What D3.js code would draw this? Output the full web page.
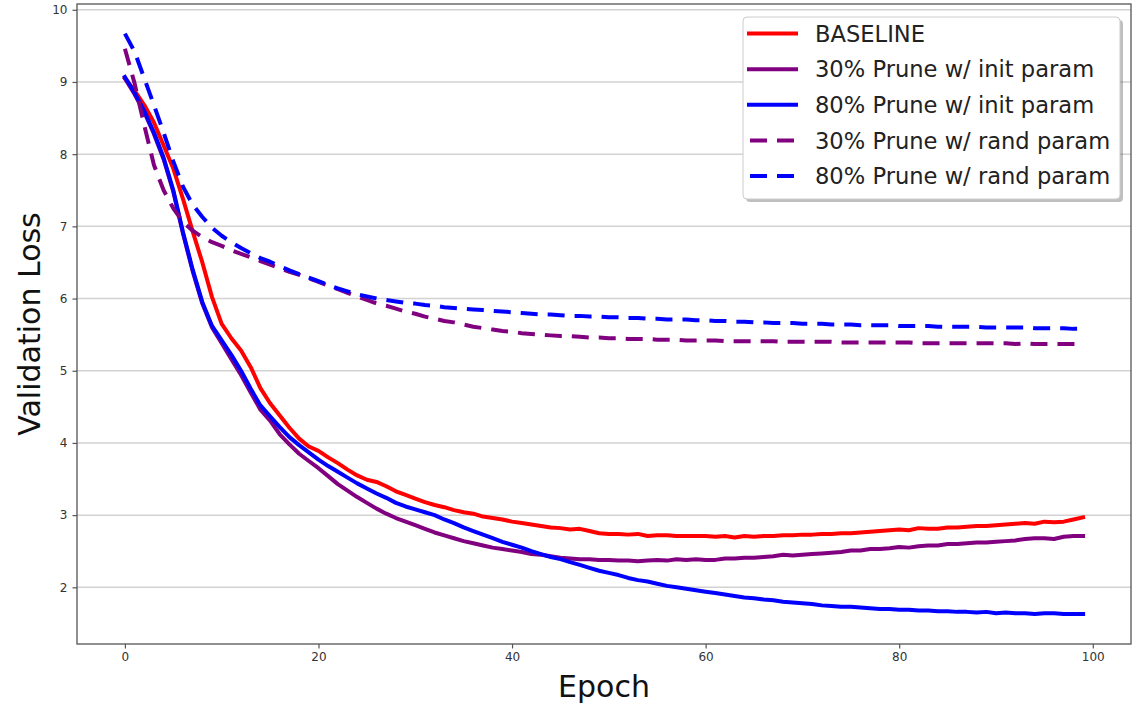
<!DOCTYPE html>
<html>
<head>
<meta charset="utf-8">
<script src="https://cdn.jsdelivr.net/npm/d3@7/dist/d3.min.js"></script>
<style>
  html, body { margin: 0; padding: 0; background: #fff; }
  svg { display: block; font-family: "DejaVu Sans", sans-serif; }
</style>
</head>
<body>
<svg id="chart" width="1140" height="707"></svg>
<script>
// Validation loss per epoch for each training configuration
const epochs = d3.range(100);

const baseline = [
  9.05, 8.88, 8.68, 8.44, 8.12, 7.80, 7.38, 6.93, 6.50, 6.02,
  5.65, 5.45, 5.28, 5.05, 4.76, 4.55, 4.38, 4.21, 4.06, 3.95,
  3.89, 3.80, 3.72, 3.63, 3.55, 3.49, 3.46, 3.40, 3.33, 3.28,
  3.23, 3.18, 3.14, 3.11, 3.07, 3.04, 3.02, 2.98, 2.96, 2.94,
  2.91, 2.89, 2.87, 2.85, 2.83, 2.82, 2.80, 2.81, 2.78, 2.75,
  2.74, 2.74, 2.73, 2.74, 2.71, 2.72, 2.72, 2.71, 2.71, 2.71,
  2.71, 2.70, 2.71, 2.69, 2.71, 2.70, 2.71, 2.71, 2.72, 2.72,
  2.73, 2.73, 2.74, 2.74, 2.75, 2.75, 2.76, 2.77, 2.78, 2.79,
  2.80, 2.79, 2.82, 2.81, 2.81, 2.83, 2.83, 2.84, 2.85, 2.85,
  2.86, 2.87, 2.88, 2.89, 2.88, 2.91, 2.90, 2.91, 2.94, 2.97
];

const prune30Init = [
  9.05, 8.83, 8.58, 8.28, 7.93, 7.48, 6.90, 6.38, 5.93, 5.60,
  5.38, 5.16, 4.94, 4.70, 4.46, 4.31, 4.12, 3.98, 3.85, 3.75,
  3.65, 3.54, 3.43, 3.34, 3.25, 3.17, 3.09, 3.02, 2.96, 2.91,
  2.86, 2.81, 2.76, 2.72, 2.68, 2.64, 2.61, 2.58, 2.55, 2.53,
  2.51, 2.49, 2.46, 2.45, 2.43, 2.41, 2.40, 2.39, 2.39, 2.38,
  2.38, 2.37, 2.37, 2.36, 2.37, 2.38, 2.37, 2.39, 2.38, 2.39,
  2.38, 2.38, 2.40, 2.40, 2.41, 2.41, 2.42, 2.43, 2.45, 2.44,
  2.45, 2.46, 2.47, 2.48, 2.49, 2.51, 2.51, 2.53, 2.53, 2.54,
  2.56, 2.55, 2.57, 2.58, 2.58, 2.60, 2.60, 2.61, 2.62, 2.62,
  2.63, 2.64, 2.65, 2.67, 2.68, 2.68, 2.67, 2.70, 2.71, 2.71
];

const prune80Init = [
  9.07, 8.85, 8.60, 8.30, 7.95, 7.50, 6.92, 6.40, 5.95, 5.62,
  5.42, 5.22, 5.00, 4.75, 4.52, 4.37, 4.22, 4.08, 3.97, 3.87,
  3.77, 3.68, 3.60, 3.52, 3.44, 3.37, 3.30, 3.24, 3.17, 3.12,
  3.08, 3.04, 3.00, 2.94, 2.89, 2.83, 2.78, 2.73, 2.68, 2.63,
  2.59, 2.55, 2.50, 2.46, 2.42, 2.39, 2.35, 2.31, 2.27, 2.23,
  2.20, 2.17, 2.13, 2.10, 2.08, 2.05, 2.02, 2.00, 1.98, 1.96,
  1.94, 1.92, 1.90, 1.88, 1.86, 1.85, 1.83, 1.82, 1.80, 1.79,
  1.78, 1.77, 1.75, 1.74, 1.73, 1.73, 1.72, 1.71, 1.70, 1.70,
  1.69, 1.69, 1.68, 1.68, 1.67, 1.67, 1.66, 1.66, 1.65, 1.66,
  1.64, 1.65, 1.64, 1.64, 1.63, 1.64, 1.64, 1.63, 1.63, 1.63
];

const prune30Rand = [
  9.46, 8.98, 8.40, 7.85, 7.50, 7.25, 7.06, 6.94, 6.85, 6.78,
  6.73, 6.67, 6.62, 6.57, 6.52, 6.47, 6.42, 6.37, 6.33, 6.28,
  6.23, 6.18, 6.13, 6.08, 6.03, 5.98, 5.93, 5.90, 5.86, 5.82,
  5.79, 5.75, 5.72, 5.69, 5.67, 5.64, 5.61, 5.59, 5.57, 5.55,
  5.54, 5.52, 5.51, 5.50, 5.49, 5.48, 5.48, 5.47, 5.46, 5.46,
  5.45, 5.45, 5.44, 5.44, 5.44, 5.43, 5.43, 5.43, 5.42, 5.42,
  5.42, 5.42, 5.41, 5.41, 5.41, 5.41, 5.41, 5.41, 5.40, 5.40,
  5.40, 5.40, 5.40, 5.40, 5.39, 5.39, 5.39, 5.39, 5.39, 5.39,
  5.39, 5.39, 5.38, 5.38, 5.38, 5.38, 5.38, 5.38, 5.38, 5.38,
  5.38, 5.38, 5.37, 5.38, 5.37, 5.37, 5.37, 5.37, 5.37, 5.37
];

const prune80Rand = [
  9.67, 9.42, 9.05, 8.68, 8.30, 7.90, 7.55, 7.30, 7.13, 6.98,
  6.87, 6.78, 6.70, 6.63, 6.56, 6.51, 6.45, 6.39, 6.34, 6.29,
  6.24, 6.19, 6.14, 6.10, 6.06, 6.03, 6.00, 5.98, 5.96, 5.94,
  5.93, 5.91, 5.90, 5.88, 5.87, 5.86, 5.85, 5.84, 5.83, 5.82,
  5.81, 5.80, 5.79, 5.78, 5.78, 5.77, 5.76, 5.76, 5.75, 5.75,
  5.74, 5.74, 5.73, 5.73, 5.72, 5.72, 5.71, 5.71, 5.71, 5.70,
  5.70, 5.69, 5.69, 5.68, 5.68, 5.67, 5.67, 5.66, 5.66, 5.66,
  5.65, 5.65, 5.65, 5.64, 5.64, 5.64, 5.63, 5.63, 5.63, 5.63,
  5.62, 5.62, 5.62, 5.62, 5.61, 5.61, 5.61, 5.61, 5.61, 5.60,
  5.60, 5.60, 5.60, 5.60, 5.59, 5.59, 5.59, 5.59, 5.58, 5.58
];

const seriesNames = [
  "BASELINE",
  "30% Prune w/ init param",
  "80% Prune w/ init param",
  "30% Prune w/ rand param",
  "80% Prune w/ rand param"
];
const seriesValues = [baseline, prune30Init, prune80Init, prune30Rand, prune80Rand];
const seriesColors = ["#ff0000", "#800080", "#0000ff", "#800080", "#0000ff"];
const seriesDashed = [false, false, false, true, true];

const xTicks = [0, 20, 40, 60, 80, 100];
const yTicks = [2, 3, 4, 5, 6, 7, 8, 9, 10];

const xLabel = "Epoch";
const yLabel = "Validation Loss";

// ---- layout ----
const svg = d3.select("#chart");
const plot = { left: 77, right: 1131, top: 4, bottom: 644 };

const x = d3.scaleLinear().domain([-4.95, 103.95]).range([plot.left, plot.right]);
const y = d3.scaleLinear().domain([1.215, 10.08]).range([plot.bottom, plot.top]);

// horizontal grid
svg.append("g")
  .selectAll("line")
  .data(yTicks)
  .join("line")
  .attr("x1", plot.left).attr("x2", plot.right)
  .attr("y1", d => y(d)).attr("y2", d => y(d))
  .attr("stroke", "#d2d2d2")
  .attr("stroke-width", 1.5);

// series lines
const line = d3.line()
  .x((d, i) => x(epochs[i]))
  .y(d => y(d));

const linesG = svg.append("g");
seriesValues.forEach((vals, k) => {
  linesG.append("path")
    .datum(vals)
    .attr("d", line)
    .attr("fill", "none")
    .attr("stroke", seriesColors[k])
    .attr("stroke-width", 4)
    .attr("stroke-linejoin", "round")
    .attr("stroke-linecap", seriesDashed[k] ? "butt" : "square")
    .attr("stroke-dasharray", seriesDashed[k] ? "17,10" : null);
});

// axes
const axisColor = "#555";
const tickTextColor = "#333";

const xAxis = svg.append("g")
  .attr("transform", `translate(0,${plot.bottom})`)
  .call(d3.axisBottom(x).tickValues(xTicks).tickFormat(d3.format("d")).tickSize(4.5).tickPadding(4));
const yAxis = svg.append("g")
  .attr("transform", `translate(${plot.left},0)`)
  .call(d3.axisLeft(y).tickValues(yTicks).tickFormat(d3.format("d")).tickSize(4.5).tickPadding(5));

[xAxis, yAxis].forEach(g => {
  g.select(".domain").remove();
  g.selectAll(".tick line").attr("stroke", axisColor).attr("stroke-width", 1.2);
  g.selectAll(".tick text")
    .attr("fill", tickTextColor)
    .style("font-family", "DejaVu Sans, sans-serif")
    .style("font-size", "12px");
});

// frame
svg.append("rect")
  .attr("x", plot.left).attr("y", plot.top)
  .attr("width", plot.right - plot.left)
  .attr("height", plot.bottom - plot.top)
  .attr("fill", "none")
  .attr("stroke", axisColor)
  .attr("stroke-width", 1.3);

// axis titles
svg.append("text")
  .attr("x", (plot.left + plot.right) / 2)
  .attr("y", 697)
  .attr("text-anchor", "middle")
  .attr("fill", "#111")
  .style("font-size", "30px")
  .text(xLabel);

svg.append("text")
  .attr("transform", `translate(40,${(plot.top + plot.bottom) / 2}) rotate(-90)`)
  .attr("text-anchor", "middle")
  .attr("fill", "#111")
  .style("font-size", "30px")
  .text(yLabel);

// legend
const legend = { x: 743, y: 17, w: 377, h: 182 };
const lg = svg.append("g");
lg.append("rect")
  .attr("x", legend.x + 3).attr("y", legend.y + 3)
  .attr("width", legend.w).attr("height", legend.h)
  .attr("rx", 4)
  .attr("fill", "#000").attr("opacity", 0.25);
lg.append("rect")
  .attr("x", legend.x).attr("y", legend.y)
  .attr("width", legend.w).attr("height", legend.h)
  .attr("rx", 4)
  .attr("fill", "#fff")
  .attr("stroke", "#cccccc")
  .attr("stroke-width", 1);

const rowY = d3.scaleLinear().domain([0, 4]).range([33.5, 176]);
seriesNames.forEach((name, k) => {
  const ry = rowY(k);
  lg.append("line")
    .attr("x1", seriesDashed[k] ? 750 : 747).attr("x2", seriesDashed[k] ? 795 : 798)
    .attr("y1", ry).attr("y2", ry)
    .attr("stroke", seriesColors[k])
    .attr("stroke-width", 4)
    .attr("stroke-dasharray", seriesDashed[k] ? "17,10" : null);
  lg.append("text")
    .attr("x", 815)
    .attr("y", ry)
    .attr("dy", "0.36em")
    .attr("fill", "#222")
    .style("font-size", "22.6px")
    .text(name);
});
</script>
</body>
</html>
